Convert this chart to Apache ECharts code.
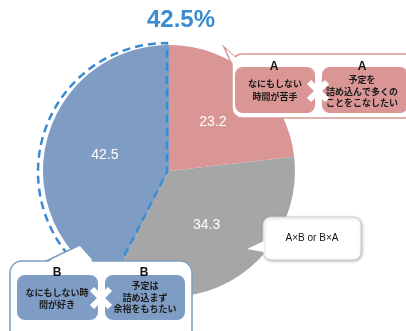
<!DOCTYPE html>
<html><head><meta charset="utf-8">
<script src="https://cdn.jsdelivr.net/npm/echarts@6/dist/echarts.min.js"></script>
<style>html,body{margin:0;padding:0;background:#fff}#c{width:406px;height:331px}</style>
</head><body><div id="c"></div>
<script>
var categories = ['A×A', 'A×B or B×A', 'B×B'];
var values = [23.2, 34.3, 42.5];
var colors = ['#d99694', '#a6a6a6', '#7f9dc4'];
var highlightIndex = 2;
var boxA = { head: 'A', left: ['なにもしない', '時間が苦手'], right: ['予定を', '詰め込んで多くの', 'ことをこなしたい'] };
var boxB = { head: 'B', left: ['なにもしない時', '間が好き'], right: ['予定は', '詰め込まず', '余裕をもちたい'] };
var mixLabel = 'A×B or B×A';

var JP = '"Noto Sans CJK JP", sans-serif';
function lines(arr, cx, yStart, step) {
  return arr.map(function (t, i) {
    return { type: 'text', z: 30, style: { text: t, x: cx, y: yStart + i * step, align: 'center', verticalAlign: 'middle',
      font: 'bold 9px ' + JP, fill: '#1a1a1a' } };
  });
}
function cross(cx, cy) {
  return [
    { type: 'line', z: 30, shape: { x1: cx - 9, y1: cy - 9, x2: cx + 9, y2: cy + 9 }, style: { stroke: '#fff', lineWidth: 6 } },
    { type: 'line', z: 30, shape: { x1: cx + 9, y1: cy - 9, x2: cx - 9, y2: cy + 9 }, style: { stroke: '#fff', lineWidth: 6 } }
  ];
}
function head(t, cx, cy) {
  return { type: 'text', z: 30, style: { text: t, x: cx, y: cy, align: 'center', verticalAlign: 'middle',
    font: 'bold 12px "Liberation Sans", Arial, sans-serif', fill: '#111' } };
}

var graphics = [];
// A callout
graphics.push({ type: 'polygon', z: 20, shape: { points: [[236, 58], [224, 47], [236, 74]] }, style: { fill: '#fff', stroke: '#d99694', lineWidth: 1.5 } });
graphics.push({ type: 'rect', z: 20, shape: { x: 232, y: 54, width: 200, height: 64, r: 10 }, style: { fill: '#fff', stroke: '#d99694', lineWidth: 1.5 } });
graphics.push({ type: 'polygon', z: 21, shape: { points: [[237, 59], [226, 49], [237, 73]] }, style: { fill: '#fff' } });
graphics.push({ type: 'rect', z: 22, shape: { x: 235, y: 67, width: 80, height: 46, r: 8 }, style: { fill: '#d99694' } });
graphics.push({ type: 'rect', z: 22, shape: { x: 322, y: 67, width: 86, height: 46, r: 8 }, style: { fill: '#d99694' } });
graphics.push(head(boxA.head, 274, 67), head(boxA.head, 362, 67));
graphics = graphics.concat(lines(boxA.left, 275, 84, 12.5), lines(boxA.right, 362, 80, 11.5), cross(318, 91));
// B callout
graphics.push({ type: 'polygon', z: 20, shape: { points: [[42, 263], [80, 245], [96, 263]] }, style: { fill: '#fff', stroke: '#7f9dc4', lineWidth: 1.5 } });
graphics.push({ type: 'rect', z: 20, shape: { x: 10, y: 261, width: 182, height: 90, r: 12 }, style: { fill: '#fff', stroke: '#7f9dc4', lineWidth: 1.5 } });
graphics.push({ type: 'polygon', z: 21, shape: { points: [[44, 264], [79, 247], [94, 264]] }, style: { fill: '#fff' } });
graphics.push({ type: 'rect', z: 22, shape: { x: 17, y: 275, width: 81, height: 45, r: 8 }, style: { fill: '#7f9dc4' } });
graphics.push({ type: 'rect', z: 22, shape: { x: 105, y: 275, width: 80, height: 45, r: 8 }, style: { fill: '#7f9dc4' } });
graphics.push(head(boxB.head, 57, 273), head(boxB.head, 144, 273));
graphics = graphics.concat(lines(boxB.left, 57, 293, 12), lines(boxB.right, 145, 286, 11.5), cross(101, 298));
// mixed callout
graphics.push({ type: 'rect', z: 19, shape: { x: 263, y: 217, width: 98, height: 43, r: 8 }, style: { fill: '#fff', stroke: '#d0d0d0', lineWidth: 1, shadowBlur: 3, shadowColor: 'rgba(0,0,0,0.25)', shadowOffsetX: 1, shadowOffsetY: 1 } });
graphics.push({ type: 'polygon', z: 20, shape: { points: [[264, 241], [247, 249], [264, 252]] }, style: { fill: '#fff' } });
graphics.push({ type: 'text', z: 30, style: { text: mixLabel, x: 312, y: 238, align: 'center', verticalAlign: 'middle', font: '10px "Liberation Sans", Arial, sans-serif', fill: '#111' } });

var chart = echarts.init(document.getElementById('c'), null, { renderer: 'canvas' });
chart.setOption({
  animation: false,
  title: { text: values[highlightIndex] + '%', left: 176, top: 3, textAlign: 'center',
    textStyle: { fontSize: 24, fontWeight: 'bold', color: '#3a8bd0', fontFamily: '"Liberation Sans", Arial, sans-serif' } },
  series: [
    { type: 'pie', center: [169, 171], radius: 126, startAngle: 90, silent: true,
      data: categories.map(function (c, i) { return { name: c, value: values[i], itemStyle: { color: colors[i] } }; }),
      label: { show: true, position: 'inside', formatter: function (p) { return p.value.toFixed(1); },
        color: '#fff', fontSize: 14, fontFamily: '"Liberation Sans", Arial, sans-serif' },
      labelLine: { show: false }, emphasis: { disabled: true } },
    { type: 'pie', center: [167, 172], radius: 129, startAngle: 90, silent: true, z: 3,
      data: categories.map(function (c, i) { return { name: c, value: values[i],
        itemStyle: i === highlightIndex ? { color: 'rgba(0,0,0,0)', borderColor: '#3a8bd0', borderWidth: 2.5, borderType: [8, 5] }
                                        : { color: 'rgba(0,0,0,0)', borderWidth: 0 } }; }),
      label: { show: false }, labelLine: { show: false }, emphasis: { disabled: true } }
  ],
  graphic: graphics
});
</script></body></html>
